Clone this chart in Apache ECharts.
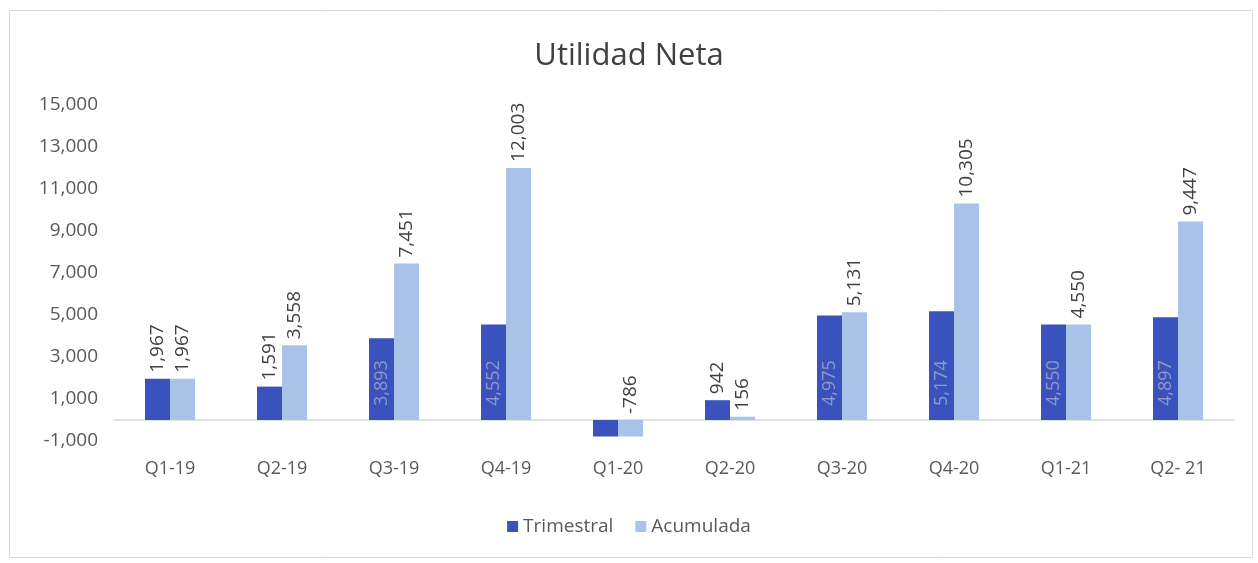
<!DOCTYPE html>
<html>
<head>
<meta charset="utf-8">
<title>Utilidad Neta</title>
<script src="https://cdn.jsdelivr.net/npm/echarts@6/dist/echarts.min.js"></script>
<style>
  html, body { margin: 0; padding: 0; background: #fff; }
  #chart { width: 1258px; height: 563px; }
</style>
</head>
<body>
<div id="chart"></div>
<script>
// quarters on the x axis
const quarters = ['Q1-19', 'Q2-19', 'Q3-19', 'Q4-19', 'Q1-20', 'Q2-20', 'Q3-20', 'Q4-20', 'Q1-21', 'Q2- 21'];
// quarterly net income
const trimestral = [1967, 1591, 3893, 4552, -786, 942, 4975, 5174, 4550, 4897];
// year-to-date net income
const acumulada = [1967, 3558, 7451, 12003, -786, 156, 5131, 10305, 4550, 9447];

const fmt = v => v.toLocaleString('en-US');
const font = '"Open Sans", "Liberation Sans", sans-serif';

const topLabel = {
    show: true,
    position: 'top',
    rotate: 90,
    align: 'left',
    verticalAlign: 'middle',
    distance: 6,
    color: '#404040',
    fontSize: 19,
    fontFamily: font,
    formatter: p => fmt(p.value)
};

// big quarterly bars carry their label inside, like the source chart
const trimData = trimestral.map((v, i) => {
    if (v < 0) return { value: v, label: { show: false } };
    if (v > 3000) {
        return {
            value: v,
            label: {
                show: true,
                position: 'insideBottom',
                rotate: 90,
                align: 'left',
                verticalAlign: 'middle',
                distance: 14,
                color: '#8d99cc',
                fontSize: 18,
                fontFamily: font,
                formatter: p => fmt(p.value)
            }
        };
    }
    return { value: v };
});

const chart = echarts.init(document.getElementById('chart'));
chart.setOption({
    backgroundColor: '#fff',
    animation: false,
    title: {
        text: 'Utilidad Neta',
        left: 'center',
        top: 36,
        textStyle: { fontSize: 31, fontWeight: 'normal', color: '#404040', fontFamily: font }
    },
    graphic: [{
        type: 'rect',
        left: 7,
        top: 8,
        shape: { width: 1243, height: 547 },
        style: { fill: 'none', stroke: '#d9d9d9', lineWidth: 1 },
        silent: true
    }],
    legend: {
        bottom: 22,
        left: 'center',
        itemWidth: 11,
        itemHeight: 11,
        itemGap: 22,
        icon: 'rect',
        textStyle: { fontSize: 19, color: '#595959', fontFamily: font },
        data: ['Trimestral', 'Acumulada']
    },
    grid: { left: 114, right: 24, top: 105, bottom: 122, containLabel: false },
    xAxis: {
        type: 'category',
        data: quarters,
        axisLine: { show: true, onZero: true, lineStyle: { color: '#d9d9d9', width: 1.5 } },
        axisTick: { show: false },
        axisLabel: {
            fontSize: 18,
            color: '#595959',
            fontFamily: font,
            margin: 0,
            padding: [19, 0, 0, 0]
        }
    },
    yAxis: {
        type: 'value',
        min: -1000,
        max: 15000,
        interval: 1000,
        splitLine: { show: false },
        axisLine: { show: false },
        axisTick: { show: false },
        axisLabel: {
            fontSize: 19,
            color: '#595959',
            fontFamily: font,
            margin: 16,
            formatter: v => (Math.abs(v) % 2000 === 1000 ? fmt(v) : '')
        }
    },
    series: [
        {
            name: 'Trimestral',
            type: 'bar',
            data: trimData,
            barWidth: 25,
            barGap: '0%',
            itemStyle: { color: '#3a52bb' },
            label: topLabel
        },
        {
            name: 'Acumulada',
            type: 'bar',
            data: acumulada,
            barWidth: 25,
            itemStyle: { color: '#a9c3e8' },
            label: topLabel
        }
    ]
});
</script>
</body>
</html>
